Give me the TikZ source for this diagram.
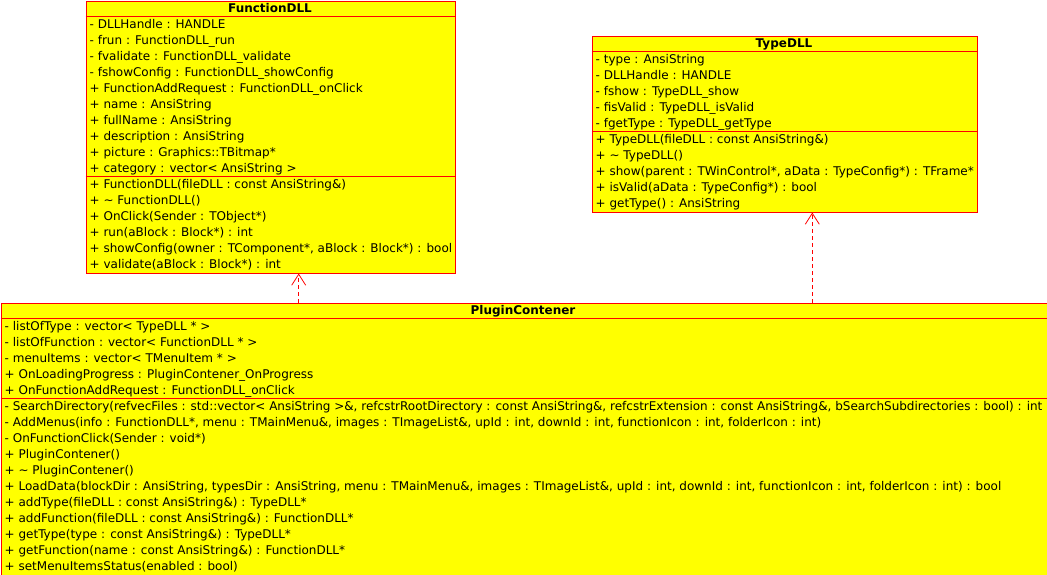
\documentclass[tikz,border=0pt]{standalone}
\usepackage{fontspec}
\setmainfont{DejaVu Sans}
\usetikzlibrary{arrows.meta}
\definecolor{umlyellow}{RGB}{255,255,0}
\definecolor{umlred}{RGB}{255,0,0}
\definecolor{umlwhite}{RGB}{255,255,255}
\tikzset{
  classbox/.style={draw=umlred, fill=umlyellow, line width=1pt, inner sep=0pt, anchor=north west},
  sepline/.style={draw=umlred, line width=1pt},
  txt/.style={anchor=base west, inner sep=0pt, font=\fontsize{12}{14}\selectfont},
  ttl/.style={anchor=base, inner sep=0pt, font=\fontsize{12}{14}\selectfont\bfseries},
  dep/.style={draw=umlred, line width=1pt, dash pattern=on 4pt off 3pt, -{Straight Barb[length=11pt,width=14pt,line width=0.8pt]}}
}
\begin{document}
\begin{tikzpicture}[x=1pt,y=-1pt]
\clip (0,0) rectangle (1047,574);
\fill[umlwhite] (0,0) rectangle (1047,574);

% ---------- FunctionDLL ----------
\node[classbox, minimum width=369pt, minimum height=272pt] (fd) at (85.5,0.5) {};
\draw[sepline] (85.5,16.5) -- (454.5,16.5);
\draw[sepline] (85.5,176.5) -- (454.5,176.5);
\node[ttl] (fdt) at (270,12.5) {FunctionDLL};
\foreach \t [count=\i] in {
  {- DLLHandle : HANDLE},
  {- frun : FunctionDLL\_run},
  {- fvalidate : FunctionDLL\_validate},
  {- fshowConfig : FunctionDLL\_showConfig},
  {+ FunctionAddRequest : FunctionDLL\_onClick},
  {+ name : AnsiString},
  {+ fullName : AnsiString},
  {+ description : AnsiString},
  {+ picture : Graphics::TBitmap*},
  {+ category : vector< AnsiString >}}
  \node[txt] (fda\i) at (89.5,{28.5+16*(\i-1)}) {\t};
\foreach \t [count=\i] in {
  {+ FunctionDLL(fileDLL : const AnsiString\&)},
  {+ \textasciitilde{} FunctionDLL()},
  {+ OnClick(Sender : TObject*)},
  {+ run(aBlock : Block*) : int},
  {+ showConfig(owner : TComponent*, aBlock : Block*) : bool},
  {+ validate(aBlock : Block*) : int}}
  \node[txt] (fdo\i) at (89.5,{188.5+16*(\i-1)}) {\t};

% ---------- TypeDLL ----------
\node[classbox, minimum width=385pt, minimum height=176pt] (td) at (591.5,35.5) {};
\draw[sepline] (591.5,51.5) -- (976.5,51.5);
\draw[sepline] (591.5,131.5) -- (976.5,131.5);
\node[ttl] (tdt) at (784,47.5) {TypeDLL};
\foreach \t [count=\i] in {
  {- type : AnsiString},
  {- DLLHandle : HANDLE},
  {- fshow : TypeDLL\_show},
  {- fisValid : TypeDLL\_isValid},
  {- fgetType : TypeDLL\_getType}}
  \node[txt] (tda\i) at (595.5,{63.5+16*(\i-1)}) {\t};
\foreach \t [count=\i] in {
  {+ TypeDLL(fileDLL : const AnsiString\&)},
  {+ \textasciitilde{} TypeDLL()},
  {+ show(parent : TWinControl*, aData : TypeConfig*) : TFrame*},
  {+ isValid(aData : TypeConfig*) : bool},
  {+ getType() : AnsiString}}
  \node[txt] (tdo\i) at (595.5,{143.5+16*(\i-1)}) {\t};

% ---------- PluginContener ----------
\node[classbox, minimum width=1047pt, minimum height=272pt] (pc) at (0.5,302.5) {};
\draw[sepline] (0.5,318.5) -- (1047.5,318.5);
\draw[sepline] (0.5,398.5) -- (1047.5,398.5);
\node[ttl] (pct) at (523,314.5) {PluginContener};
\foreach \t [count=\i] in {
  {- listOfType : vector< TypeDLL * >},
  {- listOfFunction : vector< FunctionDLL * >},
  {- menuItems : vector< TMenuItem * >},
  {+ OnLoadingProgress : PluginContener\_OnProgress},
  {+ OnFunctionAddRequest : FunctionDLL\_onClick}}
  \node[txt] (pca\i) at (4.5,{330.5+16*(\i-1)}) {\t};
\foreach \t [count=\i] in {
  {- SearchDirectory(refvecFiles : std::vector< AnsiString >\&, refcstrRootDirectory : const AnsiString\&, refcstrExtension : const AnsiString\&, bSearchSubdirectories : bool) : int},
  {- AddMenus(info : FunctionDLL*, menu : TMainMenu\&, images : TImageList\&, upId : int, downId : int, functionIcon : int, folderIcon : int)},
  {- OnFunctionClick(Sender : void*)},
  {+ PluginContener()},
  {+ \textasciitilde{} PluginContener()},
  {+ LoadData(blockDir : AnsiString, typesDir : AnsiString, menu : TMainMenu\&, images : TImageList\&, upId : int, downId : int, functionIcon : int, folderIcon : int) : bool},
  {+ addType(fileDLL : const AnsiString\&) : TypeDLL*},
  {+ addFunction(fileDLL : const AnsiString\&) : FunctionDLL*},
  {+ getType(type : const AnsiString\&) : TypeDLL*},
  {+ getFunction(name : const AnsiString\&) : FunctionDLL*},
  {+ setMenuItemsStatus(enabled : bool)}}
  \node[txt] (pco\i) at (4.5,{410.5+16*(\i-1)}) {\t};

% ---------- dependencies ----------
\coordinate (d1) at (298.7,302.5);
\coordinate (d2) at (812.3,302.5);
\draw[dep] (d1) -- (d1 |- fd.south);
\draw[dep] (d2) -- (d2 |- td.south);
\end{tikzpicture}
\end{document}
